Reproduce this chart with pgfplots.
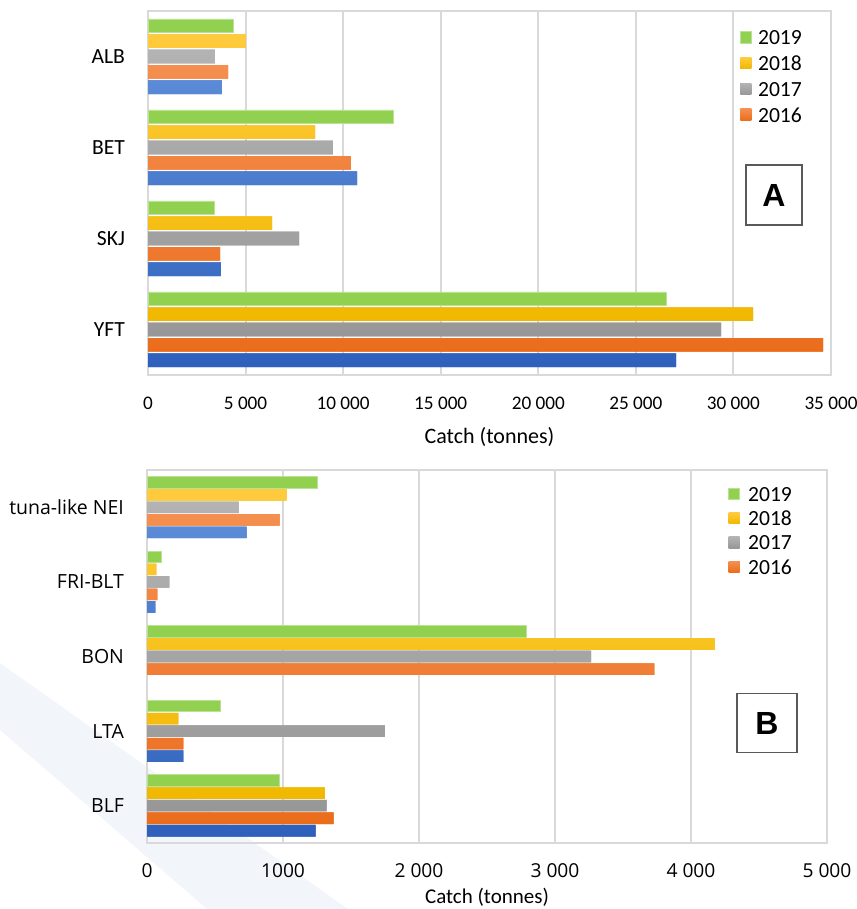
\documentclass[border=0pt]{standalone}
\usepackage{fontspec}
\setmainfont{Carlito}
\newfontfamily\osans{Open Sans}
\newfontfamily\lsans{Liberation Sans}
\usepackage{pgfplots}
\pgfplotsset{compat=1.18}
\definecolor{gridgray}{HTML}{D9D9D9}
\definecolor{bandblue}{HTML}{F2F6FB}
\definecolor{gA}{HTML}{92D050}
\definecolor{gAb}{HTML}{B9E296}
\definecolor{yT}{HTML}{FFCB3D}
\definecolor{yB}{HTML}{F0B800}
\definecolor{sT}{HTML}{B3B3B3}
\definecolor{sB}{HTML}{979797}
\definecolor{oT}{HTML}{F48F50}
\definecolor{oB}{HTML}{EB6D1C}
\definecolor{bT}{HTML}{5B8BD7}
\definecolor{bB}{HTML}{2E60BC}
\definecolor{boxgray}{HTML}{595959}

\pgfplotstableread{
y   v19    v18    v17    v16    v15
0   26550  31010  29370  34600  27060
1   3380   6360   7740   3690   3740
2   12560  8560   9480   10400  10710
3   4370   5020   3430   4100   3790
}\topdata

\pgfplotstableread{
y   v19    v18    v17    v16
0   970    1307   1321   1373
1   540    231    1749   268
2   2787   4176   3265   3730
3   108    69     164    76
4   1250   1027   673    975
}\botdata

\pgfplotstableread{
y   v15
0   1240
1   268
3   61
4   732
}\botblue

\pgfplotsset{
  catchaxis/.style={
    scale only axis,
    xbar,
    xmin=0,
    scaled x ticks=false,
    xmajorgrids,
    grid style={line width=1pt, color=gridgray},
    axis line style={line width=1pt, color=gridgray},
    major tick length=0pt,
    legend cell align=left,
    legend image code/.code={\path[##1] (0pt,-1.9pt) rectangle (5.6pt,3.7pt);},
    xlabel={Catch (tonnes)},
  },
  s19/.style={fill=gA, draw=gAb, line width=0.4pt},
  s18/.style={draw=none, fill=yB, top color=yT, bottom color=yB},
  s17/.style={draw=none, fill=sB, top color=sT, bottom color=sB},
  s16/.style={draw=none, fill=oB, top color=oT, bottom color=oB},
  s15/.style={draw=none, fill=bB, top color=bT, bottom color=bB},
}

\begin{document}
\begin{tikzpicture}
\useasboundingbox (0,0) rectangle (428pt,-454.5pt);
\fill[bandblue] (0pt,-331.5pt) -- (174pt,-454.5pt) -- (103.5pt,-454.5pt) -- (0pt,-365pt) -- cycle;

% ---------- Panel A ----------
\begin{axis}[
  catchaxis,
  at={(74pt,-187.5pt)}, anchor=south west,
  width=341.5pt, height=182pt,
  xmax=35000, ymin=-0.5, ymax=3.5,
  bar width=0.15,
  xtick={0,5000,10000,15000,20000,25000,30000,35000},
  xticklabels={0,5 000,10 000,15 000,20 000,25 000,30 000,35 000},
  ytick={0,1,2,3},
  yticklabels={YFT,SKJ,BET,ALB},
  xticklabel style={font=\fontsize{9.6}{11}\selectfont, anchor=base, yshift=-17pt},
  yticklabel style={font=\fontsize{10.8}{12}\selectfont, anchor=east, xshift=-8pt},
  xlabel style={font=\fontsize{11}{13}\selectfont, at={(axis description cs:0.5,0)}, anchor=base, yshift=-34pt},
  legend style={draw=none, fill=none, at={(rel axis cs:0.866,0.95)}, anchor=north west,
    inner sep=0pt, row sep=3.2pt, column sep=2.6pt,
    font=\fontsize{10.8}{12}\selectfont, nodes={inner sep=0.5pt}},
]
\addplot[s19, bar shift=0.338] table[x=v19, y=y] {\topdata};
\addlegendentry{2019}
\addplot[s18, bar shift=0.169] table[x=v18, y=y] {\topdata};
\addlegendentry{2018}
\addplot[s17, bar shift=0] table[x=v17, y=y] {\topdata};
\addlegendentry{2017}
\addplot[s16, bar shift=-0.169] table[x=v16, y=y] {\topdata};
\addlegendentry{2016}
\addplot[s15, bar shift=-0.338, forget plot] table[x=v15, y=y] {\topdata};
\end{axis}

% ---------- Panel B ----------
\begin{axis}[
  catchaxis,
  at={(73.5pt,-421.5pt)}, anchor=south west,
  width=340pt, height=186.5pt,
  xmax=5000, ymin=-0.5, ymax=4.5,
  bar width=0.155,
  xtick={0,1000,2000,3000,4000,5000},
  xticklabels={0,1000,2 000,3 000,4 000,5 000},
  ytick={0,1,2,3,4},
  yticklabels={BLF,LTA,BON,FRI-BLT,tuna-like NEI},
  xticklabel style={font=\osans\fontsize{9.6}{11}\selectfont, anchor=base, yshift=-17pt},
  yticklabel style={font=\osans\fontsize{9.75}{11}\selectfont, anchor=east, xshift=-8pt},
  xlabel style={font=\fontsize{10.5}{12}\selectfont, at={(axis description cs:0.5,0)}, anchor=base, yshift=-30pt},
  legend style={draw=none, fill=none, at={(rel axis cs:0.854,0.958)}, anchor=north west,
    inner sep=0pt, row sep=2.5pt, column sep=3.5pt,
    font=\fontsize{10.8}{12}\selectfont, nodes={inner sep=0.5pt}},
]
\addplot[s19, bar shift=0.336] table[x=v19, y=y] {\botdata};
\addlegendentry{2019}
\addplot[s18, bar shift=0.168] table[x=v18, y=y] {\botdata};
\addlegendentry{2018}
\addplot[s17, bar shift=0] table[x=v17, y=y] {\botdata};
\addlegendentry{2017}
\addplot[s16, bar shift=-0.168] table[x=v16, y=y] {\botdata};
\addlegendentry{2016}
\addplot[s15, bar shift=-0.336, forget plot] table[x=v15, y=y] {\botblue};
\end{axis}

\node[draw=boxgray, line width=0.8pt, fill=white, minimum width=28pt, minimum height=30pt, inner sep=0pt,
  font=\lsans\bfseries\fontsize{16}{18}\selectfont] at (387pt,-97.5pt) {A};
\node[draw=boxgray, line width=0.8pt, fill=white, minimum width=30pt, minimum height=29.5pt, inner sep=0pt,
  font=\lsans\bfseries\fontsize{16}{18}\selectfont] at (383.5pt,-361.5pt) {B};
\end{tikzpicture}
\end{document}
